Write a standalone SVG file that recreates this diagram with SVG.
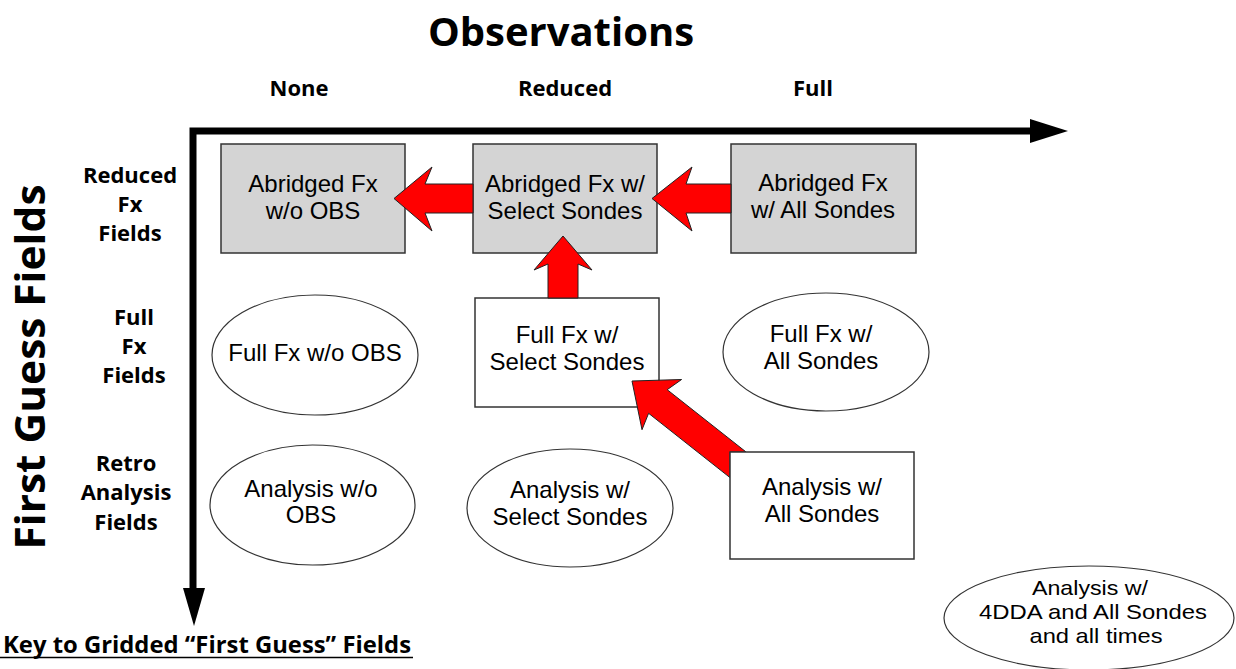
<svg xmlns="http://www.w3.org/2000/svg" width="1236" height="669" viewBox="0 0 1236 669">
<style>
.hd{font-family:"Open Sans","DejaVu Sans",sans-serif;font-weight:bold;fill:#000}
.nt{font-family:"Liberation Sans",Arial,sans-serif;font-size:24px;fill:#000;text-anchor:middle}
.sm{font-size:21px}
.gbox{fill:#d4d4d4;stroke:#333;stroke-width:1.5}
.wbox{fill:#fff;stroke:#333;stroke-width:1.5}
.ell{fill:#fff;stroke:#333;stroke-width:1.2}
.red{fill:#ff0000;stroke:#222;stroke-width:1}
</style>
<rect width="1236" height="669" fill="#fff"/>

<g id="labels">
<text class="hd" x="561" y="46" font-size="40" text-anchor="middle">Observations</text>
<text class="hd" x="299" y="96" font-size="22" text-anchor="middle">None</text>
<text class="hd" x="565" y="96" font-size="22" text-anchor="middle">Reduced</text>
<text class="hd" x="813" y="96" font-size="22" text-anchor="middle">Full</text>
<text class="hd" font-size="22" text-anchor="middle"><tspan x="130" y="183">Reduced</tspan><tspan x="130" y="212">Fx</tspan><tspan x="130" y="241">Fields</tspan></text>
<text class="hd" font-size="22" text-anchor="middle"><tspan x="134" y="325">Full</tspan><tspan x="134" y="354">Fx</tspan><tspan x="134" y="383">Fields</tspan></text>
<text class="hd" font-size="22" text-anchor="middle"><tspan x="126" y="471">Retro</tspan><tspan x="126" y="500">Analysis</tspan><tspan x="126" y="530">Fields</tspan></text>
<text class="hd" font-size="42" text-anchor="middle" transform="translate(45,367) rotate(-90)" textLength="365" lengthAdjust="spacingAndGlyphs">First Guess Fields</text>
<text class="hd" x="3" y="653" font-size="23" textLength="408" lengthAdjust="spacingAndGlyphs">Key to Gridded “First Guess” Fields</text>
<line x1="0" y1="657.5" x2="413" y2="657.5" stroke="#000" stroke-width="1.5"/>
</g>

<g id="axes">
<path d="M193,590 V131 H1032" fill="none" stroke="#000" stroke-width="7" stroke-linejoin="miter"/>
<polygon points="1030,119 1068,131 1030,143" fill="#000"/>
<polygon points="183,588 205,588 194,626" fill="#000"/>
</g>

<g id="n-abr-none">
<rect class="gbox" x="221" y="144" width="184" height="109"/>
<text class="nt"><tspan x="313" y="192">Abridged Fx</tspan><tspan x="313" y="219">w/o OBS</tspan></text>
</g>
<g id="n-abr-sel">
<rect class="gbox" x="473" y="144" width="184" height="109"/>
<text class="nt"><tspan x="565" y="192">Abridged Fx w/</tspan><tspan x="565" y="219">Select Sondes</tspan></text>
</g>
<g id="n-abr-all">
<rect class="gbox" x="731" y="144" width="185" height="109"/>
<text class="nt"><tspan x="823" y="191">Abridged Fx</tspan><tspan x="823" y="218">w/ All Sondes</tspan></text>
</g>
<g id="n-full-none">
<ellipse class="ell" cx="315" cy="355" rx="103" ry="60"/>
<text class="nt" x="315" y="361">Full Fx w/o OBS</text>
</g>
<g id="n-full-sel">
<rect class="wbox" x="475" y="298" width="184" height="109"/>
<text class="nt"><tspan x="567" y="343">Full Fx w/</tspan><tspan x="567" y="370">Select Sondes</tspan></text>
</g>
<g id="n-full-all">
<ellipse class="ell" cx="826" cy="352" rx="103" ry="59"/>
<text class="nt"><tspan x="821" y="342">Full Fx w/</tspan><tspan x="821" y="369">All Sondes</tspan></text>
</g>
<g id="n-ana-none">
<ellipse class="ell" cx="312.5" cy="505" rx="102.5" ry="60"/>
<text class="nt"><tspan x="311" y="497">Analysis w/o</tspan><tspan x="311" y="523">OBS</tspan></text>
</g>
<g id="n-ana-sel">
<ellipse class="ell" cx="570" cy="508" rx="103" ry="59"/>
<text class="nt"><tspan x="570" y="498">Analysis w/</tspan><tspan x="570" y="525">Select Sondes</tspan></text>
</g>
<g id="n-ana-4dda">
<ellipse class="ell" cx="1089" cy="618" rx="145" ry="52"/>
<text class="nt sm" x="1090" y="595" textLength="116" lengthAdjust="spacingAndGlyphs">Analysis w/</text>
<text class="nt sm" x="1093" y="619" textLength="228" lengthAdjust="spacingAndGlyphs">4DDA and All Sondes</text>
<text class="nt sm" x="1096" y="643" textLength="133" lengthAdjust="spacingAndGlyphs">and all times</text>
</g>

<g id="connectors">
<polygon class="red" points="473,184 425,184 432,167 394,198.5 432,231 425,213 473,213"/>
<polygon class="red" points="731,184 686,184 692,167 652,198.5 692,231 686,213 731,213"/>
<polygon class="red" points="548,298 548,264 534,270 563,236 592,270 578,264 578,298"/>
<polygon class="red" points="632,381 681.6,379.5 667.2,389.7 746.1,452 730,452 730,477.6 648.6,413.3 642,429.7"/>
</g>

<g id="n-ana-all">
<rect class="wbox" x="730" y="452" width="184" height="107"/>
<text class="nt"><tspan x="822" y="495">Analysis w/</tspan><tspan x="822" y="522">All Sondes</tspan></text>
</g>
</svg>
